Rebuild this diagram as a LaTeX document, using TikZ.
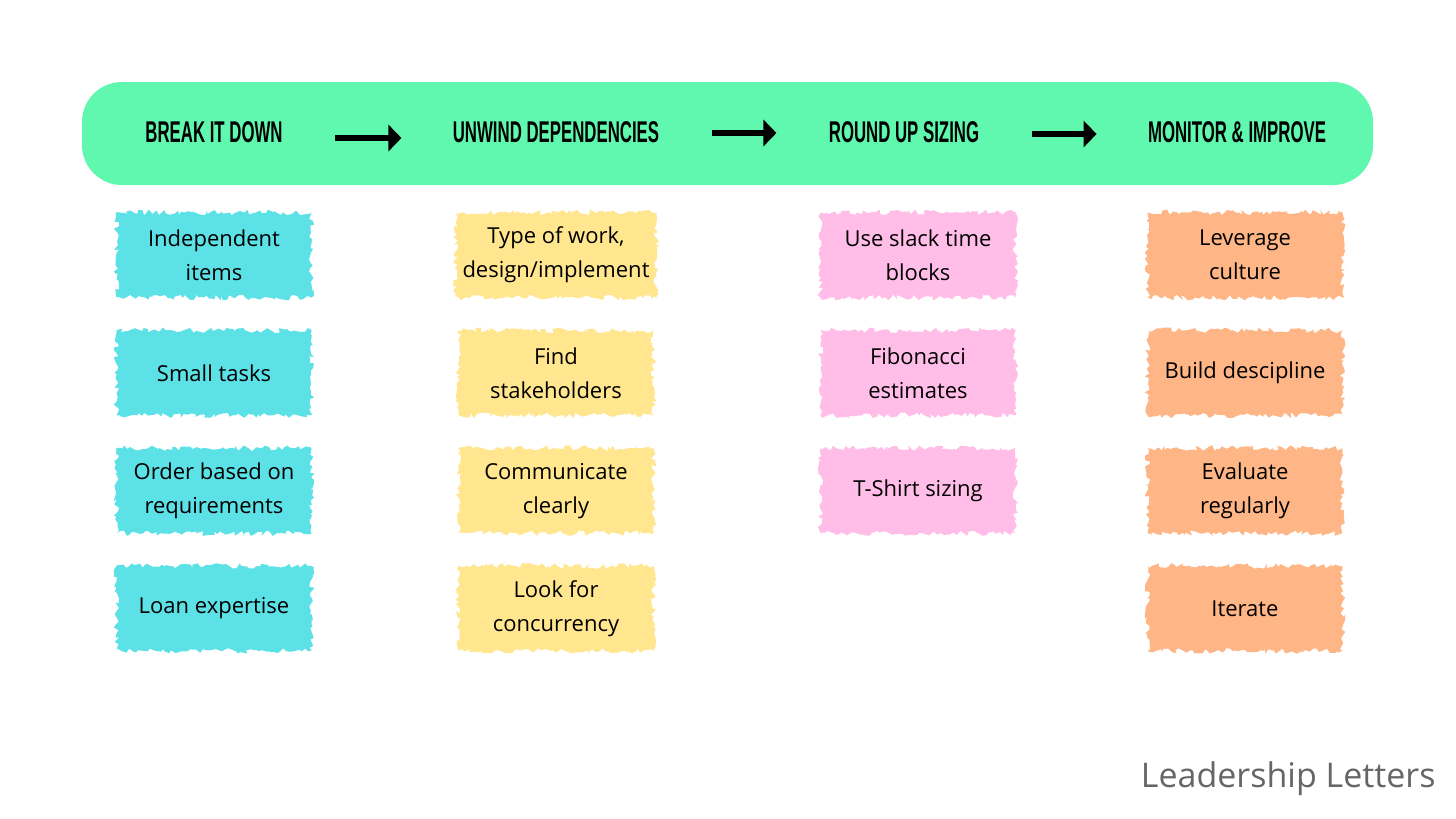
\documentclass[tikz,border=0pt]{standalone}
\usepackage{fontspec}
\usepackage{graphicx}
\usetikzlibrary{positioning,arrows.meta,decorations.pathmorphing}
\setmainfont{Open Sans}
\newfontfamily\headfont{Liberation Sans}
\definecolor{llgreen}{RGB}{96, 248, 174}
\definecolor{llcyan}{RGB}{92, 225, 230}
\definecolor{llyellow}{RGB}{255, 230, 143}
\definecolor{llpink}{RGB}{255, 189, 232}
\definecolor{llorange}{RGB}{255, 182, 134}
\definecolor{llgray}{RGB}{102, 102, 102}
\newcommand{\headtxt}[1]{\scalebox{0.56}[1]{\headfont\bfseries #1}}

\begin{document}
\begin{tikzpicture}[x=0.5pt, y=-0.5pt,
		head/.style={inner sep=0pt, font=\fontsize{15pt}{17pt}\selectfont},
		card/.style={fill=#1, minimum width=97.5pt, minimum height=42.5pt, align=center,
			font=\fontsize{11pt}{17pt}\selectfont, decorate,
			decoration={random steps, segment length=1.5pt, amplitude=1.4pt}},
		flow/.style={line width=2.6pt, -{Triangle[length=6.5pt, width=13pt]}},
		node distance=16pt]
			\pgfmathsetseed{7}
			\useasboundingbox (0, 0) rectangle (1456, 819);
			\fill [white] (0, 0) rectangle (1456, 819);
			\fill [llgreen, rounded corners=20pt] (82, 82) rectangle (1373, 185);
			% headings
			\node [head] (h1) at (214, 132) {\headtxt{BREAK IT DOWN}};
			\node [head] (h2) at (556, 132) {\headtxt{UNWIND DEPENDENCIES}};
			\node [head] (h3) at (904, 132) {\headtxt{ROUND UP SIZING}};
			\node [head] (h4) at (1237, 132) {\headtxt{MONITOR \& IMPROVE}};
			\draw [flow] ([xshift=26pt, yshift=-3pt]h1.east) -- ([xshift=-25.5pt, yshift=-3pt]h2.west);
			\draw [flow] ([xshift=26pt, yshift=-0.5pt]h2.east) -- ([xshift=-26pt, yshift=-0.5pt]h3.west);
			\draw [flow] ([xshift=26pt, yshift=-1pt]h3.east) -- ([xshift=-25.5pt, yshift=-1pt]h4.west);
			% break it down
			\node [card=llcyan] (b1) at (214, 255) {Independent\\items};
			\node [card=llcyan, below=of b1] (b2) {Small tasks};
			\node [card=llcyan, below=of b2] (b3) {Order based on\\requirements};
			\node [card=llcyan, below=of b3] (b4) {Loan expertise};
			% unwind dependencies
			\node [card=llyellow] (u1) at (556, 255) {Type of work,\\design/implement};
			\node [card=llyellow, below=of u1] (u2) {Find\\stakeholders};
			\node [card=llyellow, below=of u2] (u3) {Communicate\\clearly};
			\node [card=llyellow, below=of u3] (u4) {Look for\\concurrency};
			% round up sizing
			\node [card=llpink] (r1) at (918, 255) {Use slack time\\blocks};
			\node [card=llpink, below=of r1] (r2) {Fibonacci\\estimates};
			\node [card=llpink, below=of r2] (r3) {T-Shirt sizing};
			% monitor and improve
			\node [card=llorange] (m1) at (1245, 255) {Leverage\\culture};
			\node [card=llorange, below=of m1] (m2) {Build descipline};
			\node [card=llorange, below=of m2] (m3) {Evaluate\\regularly};
			\node [card=llorange, below=of m3] (m4) {Iterate};
			\node [anchor=east, text=llgray, inner sep=0pt, font=\fontsize{17pt}{20pt}\selectfont] (sig) at (1436, 779) {Leadership Letters};
		\end{tikzpicture}
\end{document}
